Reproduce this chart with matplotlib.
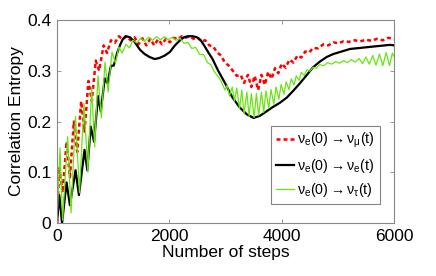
import matplotlib
matplotlib.use("Agg")
import matplotlib.pyplot as plt

plt.rcParams['font.family'] = ['Liberation Sans', 'DejaVu Sans']
plt.rcParams['mathtext.fontset'] = 'custom'
plt.rcParams['mathtext.rm'] = 'Liberation Sans'
plt.rcParams['mathtext.it'] = 'Liberation Sans'
plt.rcParams['mathtext.default'] = 'regular'

# ---- data ----
mu_steps = [0, 40, 100, 170, 230, 300, 360, 430, 490, 560, 620, 690, 750, 830, 890, 960,
            1030, 1100, 1170, 1240, 1310, 1380, 1450, 1520, 1590, 1660, 1730, 1800, 1870,
            1940, 2010, 2080, 2150, 2220, 2290, 2360, 2430, 2500, 2570, 2640, 2710, 2780,
            2850, 2920, 2990, 3060, 3130, 3200, 3270, 3330, 3400, 3460, 3520, 3580, 3640,
            3700, 3760, 3820, 3880, 3940, 4000, 4070, 4140, 4210, 4280, 4350, 4420, 4490,
            4560, 4650, 4740, 4830, 4920, 5010, 5100, 5200, 5300, 5400, 5500, 5600, 5700,
            5800, 5900, 6000]
mu_vals = [0.0, 0.11, 0.06, 0.16, 0.09, 0.20, 0.14, 0.24, 0.18, 0.28, 0.24, 0.32, 0.30, 0.35,
           0.335, 0.36, 0.355, 0.368, 0.362, 0.368, 0.36, 0.366, 0.352, 0.364, 0.35, 0.363,
           0.35, 0.362, 0.352, 0.363, 0.356, 0.365, 0.362, 0.368, 0.365, 0.368, 0.363, 0.366,
           0.358, 0.36, 0.35, 0.348, 0.336, 0.33, 0.316, 0.31, 0.30, 0.29, 0.292, 0.276,
           0.292, 0.268, 0.29, 0.262, 0.292, 0.272, 0.298, 0.284, 0.305, 0.295, 0.314, 0.306,
           0.322, 0.316, 0.33, 0.326, 0.338, 0.336, 0.345, 0.344, 0.352, 0.350, 0.356, 0.354,
           0.358, 0.357, 0.36, 0.358, 0.361, 0.359, 0.363, 0.36, 0.365, 0.362]

e_steps = [0, 40, 90, 170, 230, 330, 390, 490, 540, 600, 660, 730, 780, 850, 900, 960, 1010,
           1070, 1120, 1170, 1220, 1300, 1380, 1480, 1560, 1650, 1740, 1820, 1920, 2010,
           2100, 2190, 2260, 2330, 2420, 2490, 2560, 2630, 2700, 2760, 2870, 2990, 3120,
           3250, 3380, 3500, 3610, 3730, 3850, 3970, 4090, 4210, 4330, 4450, 4560, 4680,
           4800, 4920, 5040, 5220, 5400, 5570, 5750, 5930, 6000]
e_vals = [0.0, 0.055, 0.0, 0.08, 0.035, 0.104, 0.055, 0.144, 0.104, 0.19, 0.16, 0.25, 0.22,
          0.285, 0.275, 0.31, 0.31, 0.335, 0.35, 0.362, 0.368, 0.366, 0.357, 0.341, 0.333,
          0.327, 0.323, 0.325, 0.330, 0.337, 0.35, 0.36, 0.366, 0.368, 0.368, 0.366, 0.36,
          0.348, 0.335, 0.325, 0.30, 0.276, 0.248, 0.228, 0.214, 0.207, 0.211, 0.22, 0.229,
          0.237, 0.247, 0.261, 0.276, 0.292, 0.307, 0.318, 0.327, 0.333, 0.337, 0.343, 0.345,
          0.347, 0.349, 0.351, 0.350]

tau_steps = [0, 53, 100, 190, 250, 330, 400, 480, 550, 617, 670, 730, 790, 855, 910, 980,
             1040, 1100, 1160, 1230, 1290, 1350, 1420, 1490, 1560, 1630, 1700, 1770, 1840,
             1910, 1980, 2050, 2120, 2190, 2260, 2330, 2400, 2470, 2540, 2610, 2680, 2740,
             2800, 2860, 2920, 2950, 2990, 3030, 3070, 3120, 3160, 3200, 3250, 3290, 3330,
             3380, 3420, 3460, 3510, 3550, 3590, 3640, 3680, 3720, 3770, 3810, 3860, 3900,
             3950, 3990, 4040, 4080, 4130, 4170, 4220, 4260, 4310, 4350, 4400, 4450, 4500,
             4560, 4620, 4680, 4750, 4820, 4890, 4960, 5030, 5100, 5170, 5240, 5310, 5380,
             5440, 5500, 5560, 5620, 5680, 5740, 5800, 5860, 5920, 5970, 6000]
tau_vals = [0.0, 0.148, 0.006, 0.17, 0.02, 0.21, 0.06, 0.236, 0.10, 0.268, 0.15, 0.29, 0.207,
            0.317, 0.258, 0.337, 0.315, 0.347, 0.335, 0.352, 0.345, 0.36, 0.355, 0.364, 0.358,
            0.366, 0.36, 0.367, 0.361, 0.367, 0.361, 0.366, 0.360, 0.364, 0.354, 0.356, 0.344,
            0.346, 0.332, 0.332, 0.316, 0.312, 0.298, 0.29, 0.28, 0.272, 0.262, 0.272, 0.250,
            0.268, 0.240, 0.266, 0.225, 0.262, 0.215, 0.258, 0.210, 0.255, 0.208, 0.255, 0.212,
            0.258, 0.218, 0.260, 0.226, 0.263, 0.234, 0.268, 0.244, 0.273, 0.254, 0.278, 0.263,
            0.284, 0.272, 0.290, 0.281, 0.297, 0.291, 0.302, 0.299, 0.307, 0.305, 0.312, 0.310,
            0.316, 0.313, 0.318, 0.315, 0.320, 0.316, 0.322, 0.317, 0.324, 0.314, 0.327, 0.313,
            0.330, 0.311, 0.333, 0.310, 0.336, 0.310, 0.335, 0.328]

labels = [r'$\nu_e(0) \rightarrow \nu_\mu(t)$',
          r'$\nu_e(0) \rightarrow \nu_e(t)$',
          r'$\nu_e(0) \rightarrow \nu_\tau(t)$']
xticks = [0, 2000, 4000, 6000]
yticks = [0, 0.1, 0.2, 0.3, 0.4]

fig = plt.figure(figsize=(4.36, 2.76), dpi=100)
ax = fig.add_axes([57/436, 53/276, 337/436, 203/276])

ax.plot(mu_steps, mu_vals, color='#ff0000', lw=1.8, ls=(0, (1.6, 1.2)), label=labels[0])
ax.plot(e_steps, e_vals, color='black', lw=1.6, label=labels[1])
ax.plot(tau_steps, tau_vals, color='#66e610', lw=0.9, label=labels[2])

ax.set_xlim(0, 6000)
ax.set_ylim(0, 0.4)
ax.set_xticks(xticks)
ax.set_yticks(yticks)
ax.set_xticklabels([str(t) for t in xticks])
ax.set_yticklabels(['0', '0.1', '0.2', '0.3', '0.4'])
ax.tick_params(direction='in', length=3, width=0.6, color='#888888', labelsize=12.5,
               top=True, right=True, pad=4)
for s in ax.spines.values():
    s.set_color('#888888')
    s.set_linewidth(0.8)
ax.set_xlabel('Number of steps', fontsize=12.5, labelpad=1)
ax.set_ylabel('Correlation Entropy', fontsize=12.5, labelpad=2)

leg = ax.legend(loc='lower right', bbox_to_anchor=(380/436, 72/276), bbox_transform=fig.transFigure,
                fontsize=10.3, frameon=True, fancybox=False, handlelength=1.3,
                handletextpad=0.2, borderpad=0.35, labelspacing=0.45, borderaxespad=0)
leg.get_frame().set_edgecolor('#666666')
leg.get_frame().set_linewidth(0.8)

fig.savefig('out.png', dpi=100)
